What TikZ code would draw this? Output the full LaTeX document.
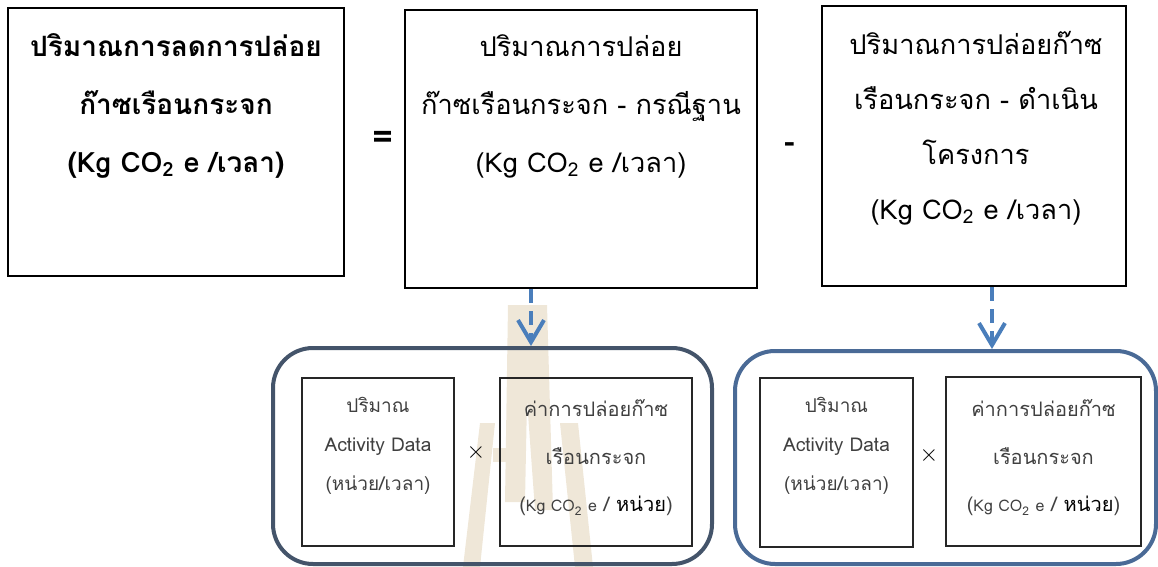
\documentclass[tikz,border=0pt]{standalone}
\usepackage{fontspec}
\setmainfont[Script=Thai]{Loma}
\usetikzlibrary{arrows.meta}
\definecolor{wm}{RGB}{239,231,216}
\definecolor{contA}{RGB}{68,84,106}
\definecolor{contB}{RGB}{74,106,150}
\definecolor{arrowblue}{RGB}{74,126,187}
\definecolor{txtgray}{RGB}{64,64,64}
\newcommand{\cotwo}{CO\textsubscript{2}}
\begin{document}
\begin{tikzpicture}[x=0.5pt,y=-0.5pt,
  bigbox/.style={draw=black,line width=1pt,inner sep=0pt},
  container/.style={line width=2pt,rounded corners=20pt,inner sep=0pt},
  smallbox/.style={draw=black!85,line width=0.6pt,inner sep=0pt},
  bigtext/.style={align=center,inner sep=0pt,font=\fontsize{13.6}{29}\selectfont},
  smalltext/.style={align=center,inner sep=0pt,text=txtgray},
  flowarrow/.style={draw=arrowblue,line width=2pt,dash pattern=on 7pt off 4pt,
    -{Straight Barb[length=11pt,width=13pt,line width=2pt]}},
  sym/.style={inner sep=0pt}]
\useasboundingbox (0,0) rectangle (1158,567);
% watermark
\fill[wm] (508,305) -- (547,305) -- (553,510) -- (535,510) -- (527,400) -- (525,502) -- (505,502) -- cycle;
\fill[wm] (480,423) -- (495,423) -- (480,567) -- (463,567) -- cycle;
\fill[wm] (493,448) rectangle (508,462);
\fill[wm] (560,423) -- (578,423) -- (593,567) -- (575,567) -- cycle;
% top boxes
\node[bigbox,minimum width=168pt,minimum height=134pt] (boxA) at (176,142) {};
\node[bigbox,minimum width=176pt,minimum height=139pt] (boxB) at (581,149) {};
\node[bigbox,minimum width=152pt,minimum height=140pt] (boxC) at (974,146) {};
\node[bigtext,font=\bfseries\fontsize{14}{29}\selectfont] (tA) at (176,106)
  {ปริมาณการลดการปล่อย\\ก๊าซเรือนกระจก\\(Kg \cotwo{} e /เวลา)};
\node[bigtext] (tB) at (581,106)
  {ปริมาณการปล่อย\\ก๊าซเรือนกระจก - กรณีฐาน\\(Kg \cotwo{} e /เวลา)};
\node[bigtext,font=\fontsize{13.6}{27.5}\selectfont] (tC) at (976,128)
  {ปริมาณการปล่อยก๊าซ\\เรือนกระจก - ดำเนิน\\โครงการ\\(Kg \cotwo{} e /เวลา)};
\node[sym,font=\bfseries\fontsize{18}{18}\selectfont] (eq) at (383,140) {=};
\node[sym,font=\bfseries\fontsize{16}{16}\selectfont] (minus) at (790,148) {-};
% containers
\node[container,draw=contA,minimum width=219.5pt,minimum height=108pt] (contL) at (492.5,456) {};
\node[container,draw=contB,minimum width=210.5pt,minimum height=106.5pt] (contR) at (945.5,457.5) {};
% inner boxes
\node[smallbox,minimum width=76pt,minimum height=84pt] (inLL) at (378,462) {};
\node[smallbox,minimum width=96pt,minimum height=84pt] (inLR) at (596,462) {};
\node[smallbox,minimum width=76.5pt,minimum height=84.5pt] (inRL) at (836.5,462.5) {};
\node[smallbox,minimum width=97.5pt,minimum height=84.5pt] (inRR) at (1043.5,461.5) {};
\node[smalltext,font=\fontsize{9.5}{19.5}\selectfont] (tLL) at (378,446)
  {ปริมาณ\\Activity Data\\(หน่วย/เวลา)};
\node[smalltext,font=\fontsize{9.5}{19.5}\selectfont] (tRL) at (836.5,446)
  {ปริมาณ\\Activity Data\\(หน่วย/เวลา)};
\node[smalltext,font=\fontsize{10}{23.75}\selectfont] (tLR) at (596,458)
  {ค่าการปล่อยก๊าซ\\เรือนกระจก\\({\fontsize{8}{10}\selectfont Kg \cotwo{} e} / \textcolor{black}{หน่วย})};
\node[smalltext,font=\fontsize{10}{23.75}\selectfont] (tRR) at (1043.5,458)
  {ค่าการปล่อยก๊าซ\\เรือนกระจก\\({\fontsize{8}{10}\selectfont Kg \cotwo{} e} / \textcolor{black}{หน่วย})};
\node[sym,font=\fontsize{12}{12}\selectfont] (x1) at (476,452) {$\times$};
\node[sym,font=\fontsize{12}{12}\selectfont] (x2) at (929,455) {$\times$};
% arrows
\coordinate (a1) at (531,0);
\coordinate (a2) at (992,0);
\draw[flowarrow] (boxB.south -| a1) -- (contL.north -| a1);
\draw[flowarrow] (boxC.south -| a2) -- (contR.north -| a2);
\end{tikzpicture}
\end{document}
